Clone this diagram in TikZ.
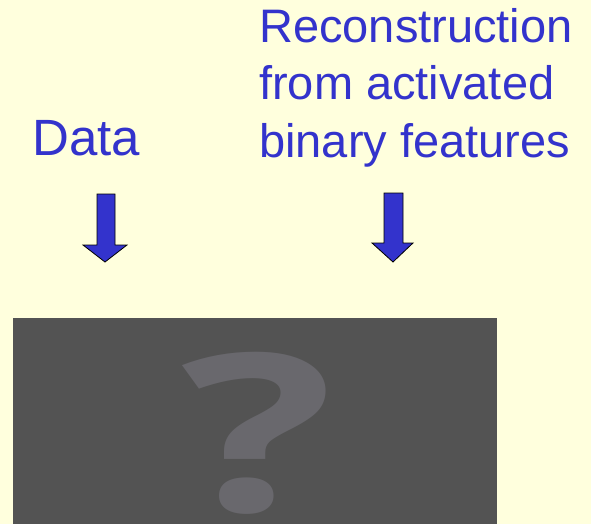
\documentclass[tikz,border=0pt]{standalone}
\usepackage{fontspec}
\setmainfont{Liberation Sans}
\newfontfamily\qmarkfont{Open Sans}
\definecolor{paper}{RGB}{255,255,221}
\definecolor{labelblue}{RGB}{51,51,204}
\definecolor{imggrey}{RGB}{83,83,83}
\definecolor{qgrey}{RGB}{105,104,109}
\tikzset{
	label text/.style={color=labelblue,font=\fontsize{47}{57}\selectfont,inner sep=0pt,align=left},
	down arrow/.style={fill=labelblue,draw=black,thick,line join=miter}
}
\begin{document}
\begin{tikzpicture}[x=1pt,y=-1pt]
	\fill[color=paper] (0,0) rectangle (591,524);
	\useasboundingbox (0,0) rectangle (591,524);
	% labels
	\node[label text,font=\fontsize{51}{57}\selectfont,anchor=base west] (data) at (32,155) {Data};
	\node[label text,anchor=base west] (recon) at (259,157) {Reconstruction\\from activated\\binary features};
	% block arrows
	\draw[down arrow] (97,194)--(115,194)--(115,245)--(127,245)--(105,262)--(83,245)--(97,245)--cycle;
	\draw[down arrow] (384,193)--(403,193)--(403,243)--(413,243)--(393,262)--(372,243)--(384,243)--cycle;
	% hidden image
	\fill[color=imggrey] (13,318) rectangle (497,524);
	\node[color=qgrey,font=\qmarkfont\bfseries\fontsize{220}{220}\selectfont,inner sep=0pt,xscale=1.45,anchor=base] (qmark) at (258,511) {?};
\end{tikzpicture}
\end{document}
